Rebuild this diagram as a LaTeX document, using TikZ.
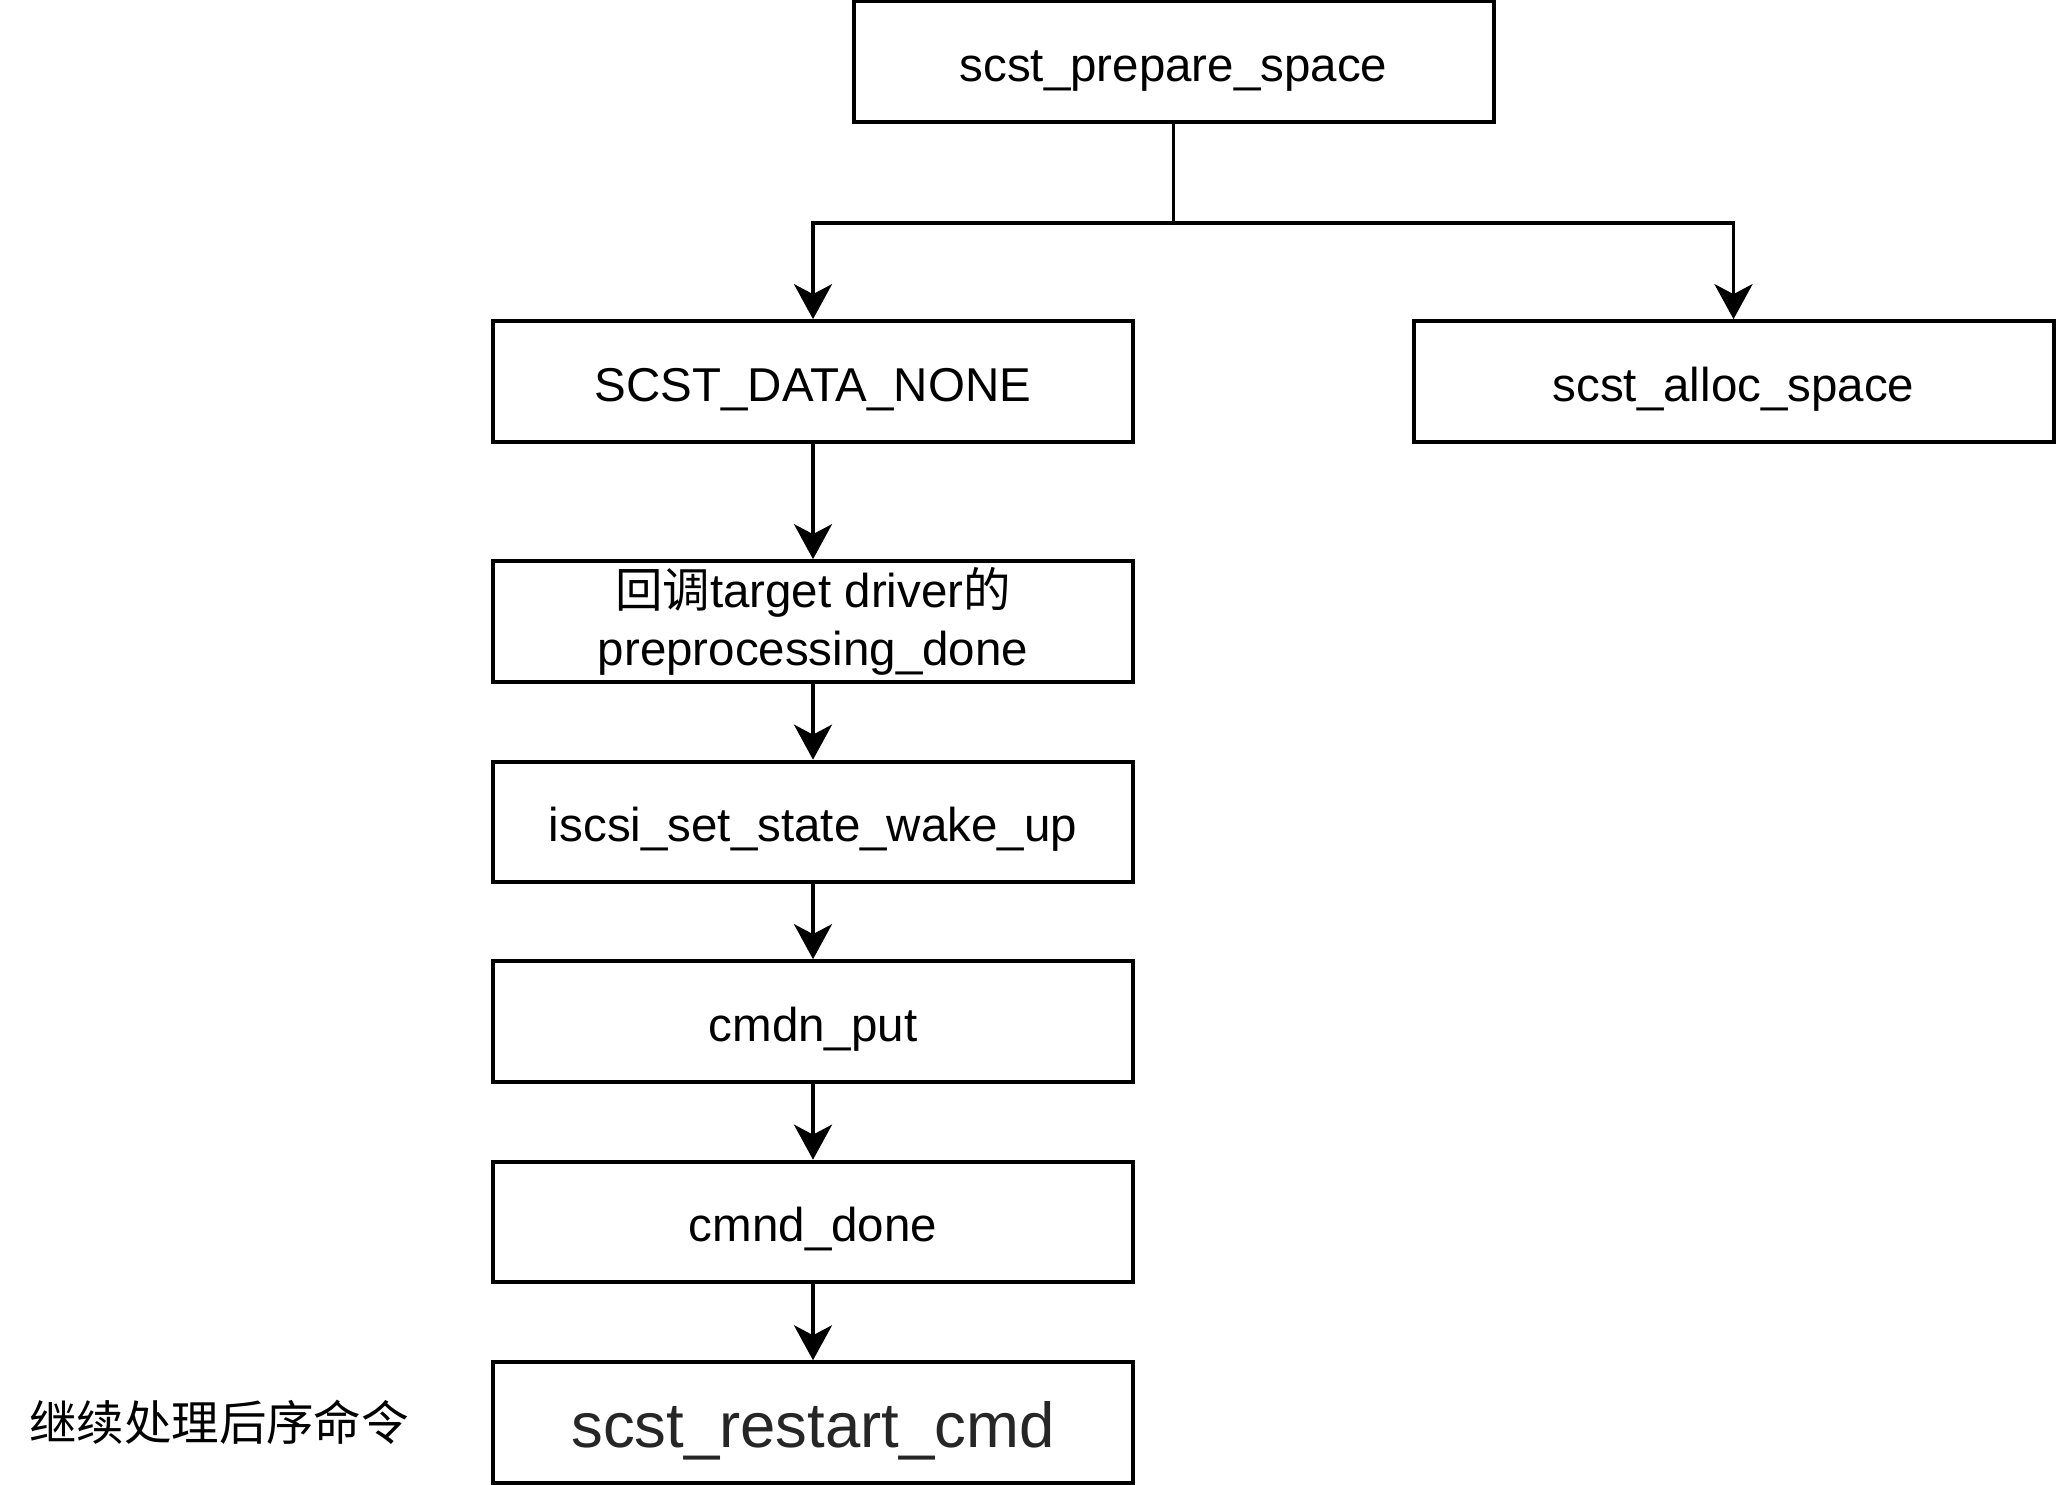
\documentclass[tikz,border=0pt]{standalone}
\usepackage{fontspec}
\setmainfont{Liberation Sans}
\newfontfamily\cjk{Noto Sans CJK SC}
\usetikzlibrary{arrows.meta}
\definecolor{darktext}{HTML}{262626}
\begin{document}
\begin{tikzpicture}[x=1pt,y=-1pt,
  fnbox/.style={draw=black, line width=4pt, minimum width=640pt, minimum height=120.7pt,
    inner sep=0pt, align=center, font=\fontsize{47.5}{58}\selectfont,
    text height=39pt, text depth=0pt},
  flow/.style={line width=3.6pt, -{Stealth[length=35pt,width=38pt,inset=10pt]}},
  link/.style={line width=3.6pt}]
  \useasboundingbox (0,0) rectangle (2056,1484);

  % call tree nodes
  \node[fnbox] (prep)    at (1173.5,61.7)  {scst\_prepare\_space};
  \node[fnbox] (none)    at (813,381.5)    {SCST\_DATA\_NONE};
  \node[fnbox] (alloc)   at (1733.5,381.5) {scst\_alloc\_space};
  \node[fnbox, text height=, text depth=] (cb) at (813,621.5)
    {{\cjk 回调}target driver{\cjk 的}\\preprocessing\_done};
  \node[fnbox] (wake)    at (813,822)      {iscsi\_set\_state\_wake\_up};
  \node[fnbox] (put)     at (813,1021.5)   {cmdn\_put};
  \node[fnbox] (done)    at (813,1222)     {cmnd\_done};
  \node[fnbox, text=darktext, font=\fontsize{63.5}{70}\selectfont,
        text height=49pt] (restart) at (813,1422.6) {scst\_restart\_cmd};

  % side note
  \node[font=\cjk\fontsize{47.5}{58}\selectfont] (note) at (219,1422.6) {继续处理后序命令};

  % branch from scst_prepare_space
  \coordinate (fork) at (1173.5,222.9);
  \draw[link] (prep.south) -- (fork);
  \draw[flow] (fork) -| (none.north);
  \draw[flow] (fork) -| (alloc.north);

  % sequential flow
  \draw[flow] (none) -- (cb);
  \draw[flow] (cb) -- (wake);
  \draw[flow] (wake) -- (put);
  \draw[flow] (put) -- (done);
  \draw[flow] (done) -- (restart);
\end{tikzpicture}
\end{document}
